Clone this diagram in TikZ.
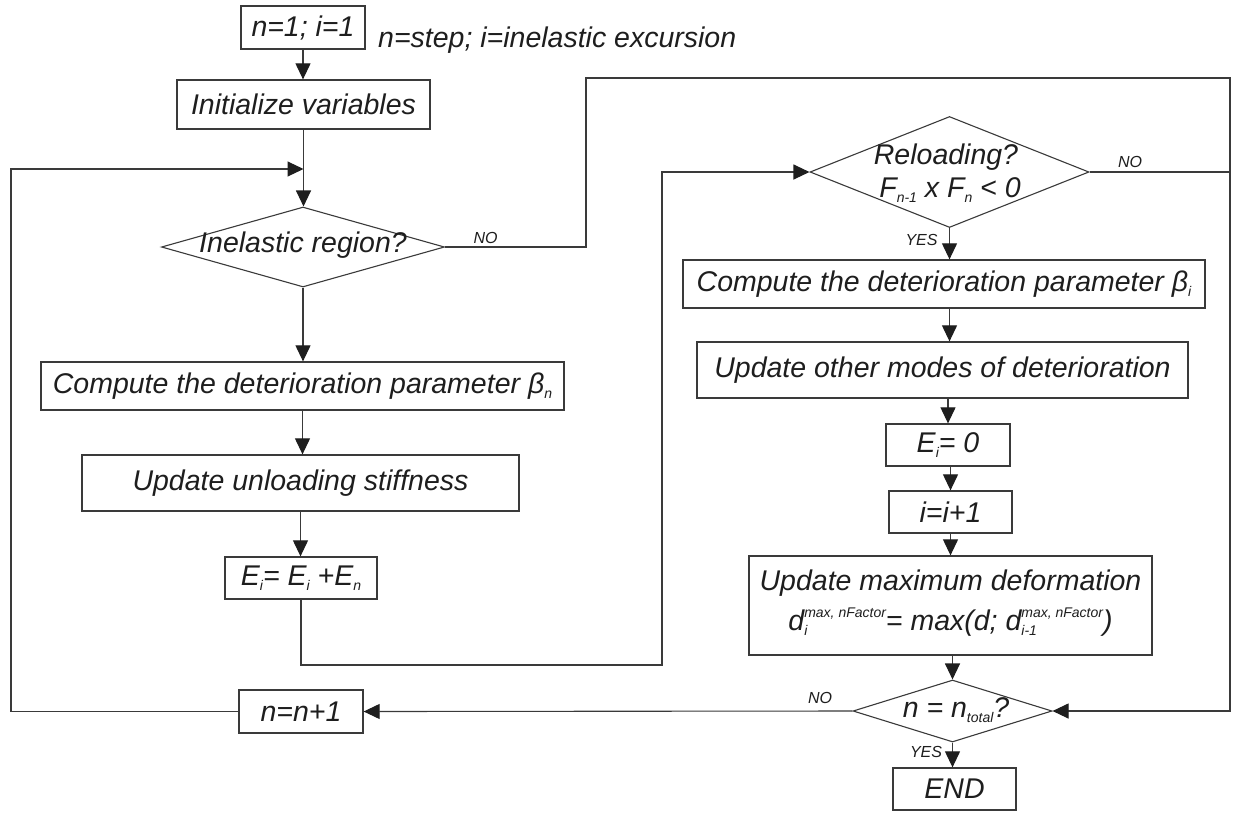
\documentclass[tikz,border=0pt]{standalone}
\usepackage{fontspec}
\setmainfont{Liberation Sans}
\usetikzlibrary{arrows.meta,shapes.geometric}
\newcommand\lo[1]{\raisebox{-5pt}{\fontsize{14}{14}\selectfont #1}}
\newcommand\lohi[2]{\raisebox{-5pt}{\fontsize{14}{18}\selectfont\begin{tabular}[b]{@{}l@{}}#2\\#1\end{tabular}}}
\definecolor{ln}{HTML}{3A3A3A}
\definecolor{tx}{HTML}{1E1E1E}
\begin{document}
\begin{tikzpicture}[x=1pt,y=-1pt,
  box/.style={draw=ln, line width=1.3pt, rectangle, inner sep=0pt, text=tx, font=\fontsize{28.5}{34}\selectfont\itshape},
  dia/.style={draw=ln, line width=1.1pt, diamond, inner sep=0pt},
  txt/.style={text=tx, inner sep=0pt, font=\fontsize{28.5}{34}\selectfont\itshape},
  lbl/.style={text=tx, inner sep=0pt, font=\fontsize{16}{18}\selectfont\itshape},
  con/.style={draw=ln, line width=1.1pt},
  arr/.style={con, -{Triangle[length=16pt,width=15pt,color=tx]}}]
\useasboundingbox[fill=white] (0,0) rectangle (1233,812);

% left column
\node[box, minimum width=124pt, minimum height=43pt] (start) at (303,27.5) {n=1; i=1};
\node[txt, anchor=base west] (note) at (378,47) {n=step; i=inelastic excursion};
\node[box, minimum width=253pt, minimum height=49pt] (init) at (303.5,104.5) {Initialize variables};
\node[dia, minimum width=283pt, minimum height=80pt] (inel) at (303,247) {};
\node[txt] (ineltxt) at (303,245) {Inelastic region?};
\node[box, minimum width=523pt, minimum height=48pt] (compn) at (302.5,386) {Compute the deterioration parameter β\lo{n}};
\node[box, minimum width=437pt, minimum height=56pt] (unload) at (300.5,483) {Update unloading stiffness};
\node[box, minimum width=152pt, minimum height=42pt] (eacc) at (301,578) {E\lo{i}= E\lo{i} +E\lo{n}};
\node[box, minimum width=124pt, minimum height=43pt] (nnext) at (301,711.5) {n=n+1};

% right column
\node[dia, minimum width=279pt, minimum height=111pt] (reload) at (949.5,172) {};
\node[txt] (reloadtxt1) at (946,157) {Reloading?};
\node[txt] (reloadtxt2) at (950,190) {F\lo{n-1} x F\lo{n} < 0};
\node[box, minimum width=522pt, minimum height=48pt] (compi) at (944,284) {Compute the deterioration parameter β\lo{i}};
\node[box, minimum width=491pt, minimum height=56pt] (other) at (942.5,370) {Update other modes of deterioration};
\node[box, minimum width=124pt, minimum height=42pt] (ezero) at (948,445) {E\lo{i}= 0};
\node[box, minimum width=123pt, minimum height=42pt] (iinc) at (950.5,512) {i=i+1};
\node[box, minimum width=403pt, minimum height=99pt, align=center, font=\fontsize{28.5}{40}\selectfont\itshape] (maxdef) at (950.5,605.5)
  {Update maximum deformation\\d\lohi{i}{max, nFactor}= max(d; d\lohi{i-1}{max, nFactor})};
\node[dia, minimum width=199pt, minimum height=62pt] (ntot) at (952.5,711) {};
\node[txt] (ntottxt) at (956,710) {n = n\lo{total}?};
\node[box, minimum width=123pt, minimum height=42pt] (end) at (954.5,789) {END};

% labels
\node[lbl] (no1) at (485.5,238) {NO};
\node[lbl] (no2) at (1130,162) {NO};
\node[lbl] (yes1) at (921.5,240) {YES};
\node[lbl] (no3) at (820,698) {NO};
\node[lbl] (yes2) at (926,752) {YES};

\coordinate (jl) at (init.south |- 0,169);

% connectors left column
\draw[arr] (start.south) -- (start.south |- init.north);
\draw[arr] (init.south) -- (init.south |- inel.north);
\draw[arr] (nnext.west) -- (11,711.5) -- (11,169) -- (jl);
\draw[arr] (inel.south) -- (inel.south |- compn.north);
\draw[arr] (compn.south) -- (compn.south |- unload.north);
\draw[arr] (unload.south) -- (unload.south |- eacc.north);
\draw[arr] (eacc.south) -- (eacc.south |- 0,665) -- (662,665) -- (662,172) -- (reload.west);

% NO branches
\draw[arr] (inel.east) -- (586,247) -- (586,78) -- (1230,78) -- (1230,711) -- (ntot.east);
\draw[con] (reload.east) -- (1230,172);

% right column
\draw[arr] (reload.south) -- (reload.south |- compi.north);
\draw[arr] (reload.south |- compi.south) -- (reload.south |- other.north);
\draw[arr] (ezero.north |- other.south) -- (ezero.north);
\draw[arr] (iinc.north |- ezero.south) -- (iinc.north);
\draw[arr] (maxdef.north |- iinc.south) -- (maxdef.north);
\draw[arr] (ntot.north |- maxdef.south) -- (ntot.north);
\draw[arr] (ntot.south) -- (ntot.south |- end.north);
\draw[arr] (ntot.west) -- (nnext.east);
\end{tikzpicture}
\end{document}
